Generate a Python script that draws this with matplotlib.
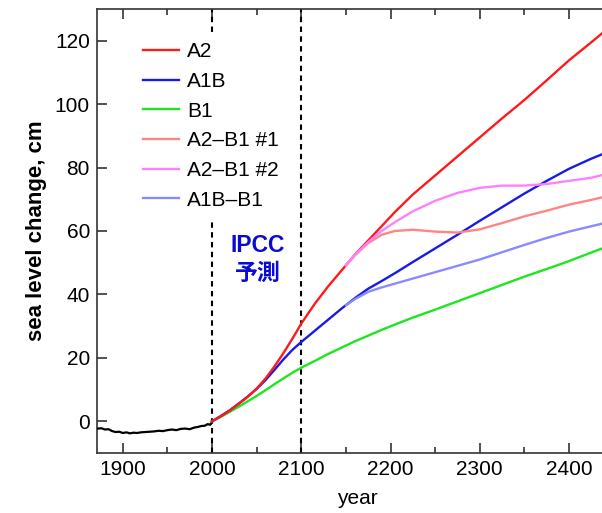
import matplotlib
matplotlib.use('Agg')
import matplotlib.pyplot as plt
from matplotlib.ticker import MultipleLocator

plt.rcParams['font.family'] = ['Liberation Sans', 'Noto Sans CJK JP', 'DejaVu Sans']

# observed record (black)
hist_years = [1872, 1876, 1880, 1884, 1888, 1892, 1896, 1900, 1904, 1908, 1912, 1916,
              1920, 1925, 1930, 1935, 1940, 1945, 1950, 1955, 1960, 1965, 1970, 1975,
              1980, 1984, 1988, 1992, 1995, 1998, 2000]
hist_vals = [-2.3, -2.2, -2.6, -2.5, -3.1, -3.4, -3.3, -3.7, -3.5, -3.8, -3.6, -3.7,
             -3.5, -3.4, -3.3, -3.2, -3.0, -3.1, -2.8, -2.6, -2.8, -2.4, -2.3, -2.5,
             -2.0, -1.8, -1.5, -1.4, -0.9, -1.1, -0.3]

# main scenarios
years = [2000, 2010, 2020, 2030, 2040, 2050, 2060, 2070, 2080, 2090, 2100, 2115, 2130,
         2145, 2160, 2175, 2190, 2205, 2225, 2250, 2275, 2300, 2325, 2350, 2375, 2400,
         2425, 2440]
a2 = [0, 1.6, 3.4, 5.5, 7.7, 10.3, 13.5, 17.3, 21.5, 26.0, 30.8, 37.0, 42.5,
      47.5, 52.5, 57.0, 61.5, 66.0, 71.5, 77.5, 83.5, 89.5, 95.5, 101.3, 107.5, 113.8,
      119.5, 123.0]
a1b = [0, 1.7, 3.5, 5.6, 7.8, 10.2, 13.0, 16.2, 19.5, 22.5, 25.0, 28.5, 32.0,
       35.5, 38.8, 41.8, 44.2, 46.7, 50.2, 54.5, 58.8, 63.2, 67.5, 71.8, 75.8, 79.6,
       82.8, 84.5]
b1 = [0, 1.4, 3.0, 4.6, 6.3, 8.0, 9.8, 11.7, 13.5, 15.3, 16.9, 19.0, 21.2,
      23.2, 25.2, 27.0, 28.8, 30.5, 32.7, 35.2, 37.8, 40.4, 43.0, 45.6, 48.0, 50.5,
      53.2, 54.8]

# switching scenarios (start where they leave the parent curve)
var_years = [2150, 2160, 2175, 2190, 2205, 2225, 2250, 2275, 2300, 2325, 2350, 2375,
             2400, 2425, 2440]
a2_b1_1 = [49.2, 52.3, 56.2, 58.8, 60.0, 60.4, 59.8, 59.5, 60.5, 62.5, 64.6, 66.4,
           68.3, 69.8, 70.8]
a2_b1_2 = [49.2, 52.4, 56.5, 60.0, 62.8, 66.2, 69.5, 72.0, 73.6, 74.3, 74.3, 74.8,
           75.8, 76.8, 77.8]
a1b_b1 = [36.6, 38.5, 40.8, 42.2, 43.4, 45.0, 47.0, 49.0, 51.0, 53.3, 55.6, 57.8,
          59.8, 61.5, 62.5]

fig = plt.figure(figsize=(6.02, 5.13), dpi=100)
ax = fig.add_axes([0.161, 0.117, 0.839, 0.8655])

ax.plot(hist_years, hist_vals, color='black', lw=1.6, zorder=3)
ax.plot(years, a2, color='#ff1a1a', lw=1.7, label='A2', zorder=5)
ax.plot(years, a1b, color='#1a1ae6', lw=1.7, label='A1B', zorder=4)
ax.plot(years, b1, color='#1ee61e', lw=1.7, label='B1', zorder=3)
ax.plot(var_years, a2_b1_1, color='#ff8585', lw=1.7, label='A2\u2013B1 #1', zorder=6)
ax.plot(var_years, a2_b1_2, color='#ff80ff', lw=1.7, label='A2\u2013B1 #2', zorder=7)
ax.plot(var_years, a1b_b1, color='#8a8aff', lw=1.7, label='A1B\u2013B1', zorder=6)

for yr in (2000, 2100):
    ax.axvline(yr, color='black', lw=1.5, ls=(0, (2.6, 2.1)), zorder=2)

ax.set_xlim(1871, 2437)
ax.set_ylim(-10, 130)
ax.xaxis.set_major_locator(MultipleLocator(100))
ax.xaxis.set_minor_locator(MultipleLocator(50))
ax.yaxis.set_major_locator(MultipleLocator(20))

for s in ('left', 'bottom', 'top'):
    ax.spines[s].set_color('#333333')
    ax.spines[s].set_linewidth(1.2)
ax.spines['right'].set_visible(False)

ax.tick_params(axis='x', which='both', direction='in', top=True, bottom=True,
               labelsize=15, pad=5, color='#333333')
ax.tick_params(axis='x', which='major', length=7, width=1.2)
ax.tick_params(axis='x', which='minor', length=4, width=1.2)
ax.tick_params(axis='y', which='major', direction='in', length=7, width=1.2,
               labelsize=15, pad=5, color='#333333')

ax.set_xlabel('year', fontsize=15)
ax.xaxis.set_label_coords(0.515, -0.082)
ax.set_ylabel('sea level change, cm', fontsize=16, fontweight='bold', labelpad=6)

ax.text(2051, 51, 'IPCC\n予測', color='#0a0ad2', fontsize=16.5, fontweight='bold',
        ha='center', va='center', linespacing=1.25)

leg = ax.legend(loc='upper left', bbox_to_anchor=(0.070, 0.948), frameon=True,
                fontsize=15, handlelength=1.72, handletextpad=0.4, labelspacing=0.51,
                borderaxespad=0, borderpad=0.5, fancybox=False)
leg.get_frame().set_facecolor('white')
leg.get_frame().set_edgecolor('none')
leg.get_frame().set_alpha(1)
leg.set_zorder(10)

fig.savefig('out.png', dpi=100)
